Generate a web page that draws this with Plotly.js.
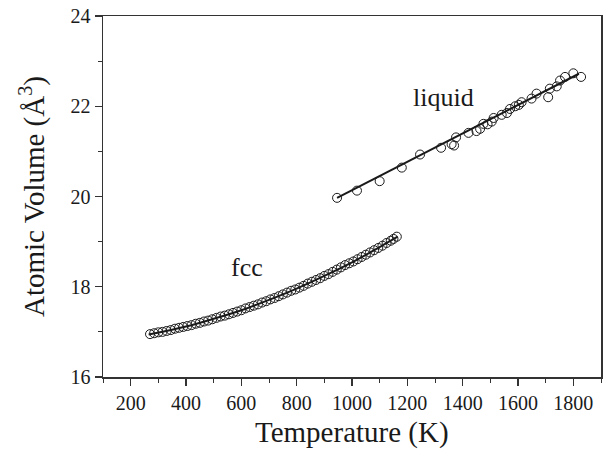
<!DOCTYPE html>
<html>
<head>
<meta charset="utf-8">
<script src="https://cdn.plot.ly/plotly-3.0.1.min.js"></script>
<style>
  html, body { margin: 0; padding: 0; background: #fff; }
  #chart { width: 606px; height: 449px; }
</style>
</head>
<body>
<div id="chart"></div>
<script>
// fcc phase: temperature (K) and atomic volume (Å^3)
const fccT = [270, 285, 300, 315, 330, 345, 360, 375, 390, 405, 420, 435, 450, 465, 480,
  495, 510, 525, 540, 555, 570, 585, 600, 615, 630, 645, 660, 675, 690, 705, 720, 735, 750,
  765, 780, 795, 810, 825, 840, 855, 870, 885, 900, 915, 930, 945, 960, 975, 990, 1005,
  1020, 1035, 1050, 1065, 1080, 1095, 1110, 1125, 1140, 1150, 1162];
const fccV = [16.95, 16.97, 16.99, 17.00, 17.02, 17.04, 17.07, 17.09, 17.11, 17.13, 17.15,
  17.18, 17.20, 17.23, 17.25, 17.28, 17.31, 17.34, 17.36, 17.39, 17.42, 17.45, 17.48, 17.52,
  17.55, 17.58, 17.61, 17.65, 17.68, 17.72, 17.75, 17.79, 17.83, 17.87, 17.91, 17.94, 17.98,
  18.02, 18.07, 18.11, 18.15, 18.19, 18.24, 18.28, 18.33, 18.38, 18.43, 18.48, 18.52, 18.56,
  18.61, 18.66, 18.71, 18.76, 18.81, 18.86, 18.91, 18.97, 19.02, 19.06, 19.11];

// fcc fitted curve
const fccFitT = [265, 400, 500, 600, 700, 800, 900, 1000, 1100, 1165];
const fccFitV = [16.94, 17.12, 17.29, 17.48, 17.71, 17.96, 18.24, 18.54, 18.88, 19.11];

// liquid phase: temperature (K) and atomic volume (Å^3)
const liqT = [946, 1018, 1100, 1180, 1246, 1322, 1360, 1369, 1376, 1421, 1450, 1463, 1475,
  1490, 1505, 1512, 1541, 1560, 1571, 1590, 1603, 1613, 1649, 1667, 1709, 1715, 1740, 1752,
  1770, 1800, 1828];
const liqV = [19.97, 20.13, 20.34, 20.64, 20.93, 21.08, 21.16, 21.13, 21.31, 21.41, 21.45,
  21.50, 21.61, 21.60, 21.66, 21.74, 21.81, 21.85, 21.94, 22.00, 22.03, 22.09, 22.17, 22.28,
  22.20, 22.39, 22.44, 22.57, 22.65, 22.73, 22.65];

// liquid linear fit
const liqFitT = [946, 1820];
const liqFitV = [19.97, 22.72];

const ink = '#1a1a1a';
const serif = '"Liberation Serif", "Times New Roman", serif';

const marker = {
  symbol: 'circle-open', size: 9, color: ink, line: { width: 1, color: ink }
};

const traces = [
  { x: fccFitT, y: fccFitV, mode: 'lines', line: { color: ink, width: 2, shape: 'spline' },
    hoverinfo: 'skip' },
  { x: fccT, y: fccV, mode: 'markers', marker: marker, name: 'fcc' },
  { x: liqFitT, y: liqFitV, mode: 'lines', line: { color: ink, width: 2 }, hoverinfo: 'skip' },
  { x: liqT, y: liqV, mode: 'markers', marker: marker, name: 'liquid' }
];

const axisCommon = {
  showgrid: false, zeroline: false,
  showline: true, linecolor: '#333', linewidth: 1.5, mirror: true,
  ticks: 'outside', ticklen: 7, tickwidth: 1.2, tickcolor: '#333',
  tickfont: { family: serif, size: 20, color: ink }
};

const layout = {
  width: 606, height: 449,
  margin: { l: 103, r: 5, t: 16, b: 72 },
  paper_bgcolor: '#fff', plot_bgcolor: '#fff',
  showlegend: false,
  xaxis: Object.assign({}, axisCommon, {
    range: [100, 1900], tick0: 200, dtick: 200,
    minor: { dtick: 100, ticks: 'outside', ticklen: 4, tickwidth: 1, tickcolor: '#333' }
  }),
  yaxis: Object.assign({}, axisCommon, {
    range: [16, 24], tick0: 16, dtick: 2,
    minor: { dtick: 1, ticks: 'outside', ticklen: 4, tickwidth: 1, tickcolor: '#333' },
    title: { text: 'Atomic Volume (Å<sup>3</sup>)', font: { family: serif, size: 29, color: ink }, standoff: 17 }
  }),
  annotations: [
    // x-axis title, set just below the tick labels
    { xref: 'paper', yref: 'paper', x: 0.5, y: -0.155, yanchor: 'middle',
      text: 'Temperature (K)', showarrow: false,
      font: { family: serif, size: 29, color: ink } },
    { x: 1330, y: 22.2, text: 'liquid', showarrow: false,
      font: { family: serif, size: 26, color: ink } },
    { x: 620, y: 18.43, text: 'fcc', showarrow: false,
      font: { family: serif, size: 26, color: ink } }
  ]
};

Plotly.newPlot('chart', traces, layout, { displayModeBar: false, staticPlot: true });
</script>
</body>
</html>
